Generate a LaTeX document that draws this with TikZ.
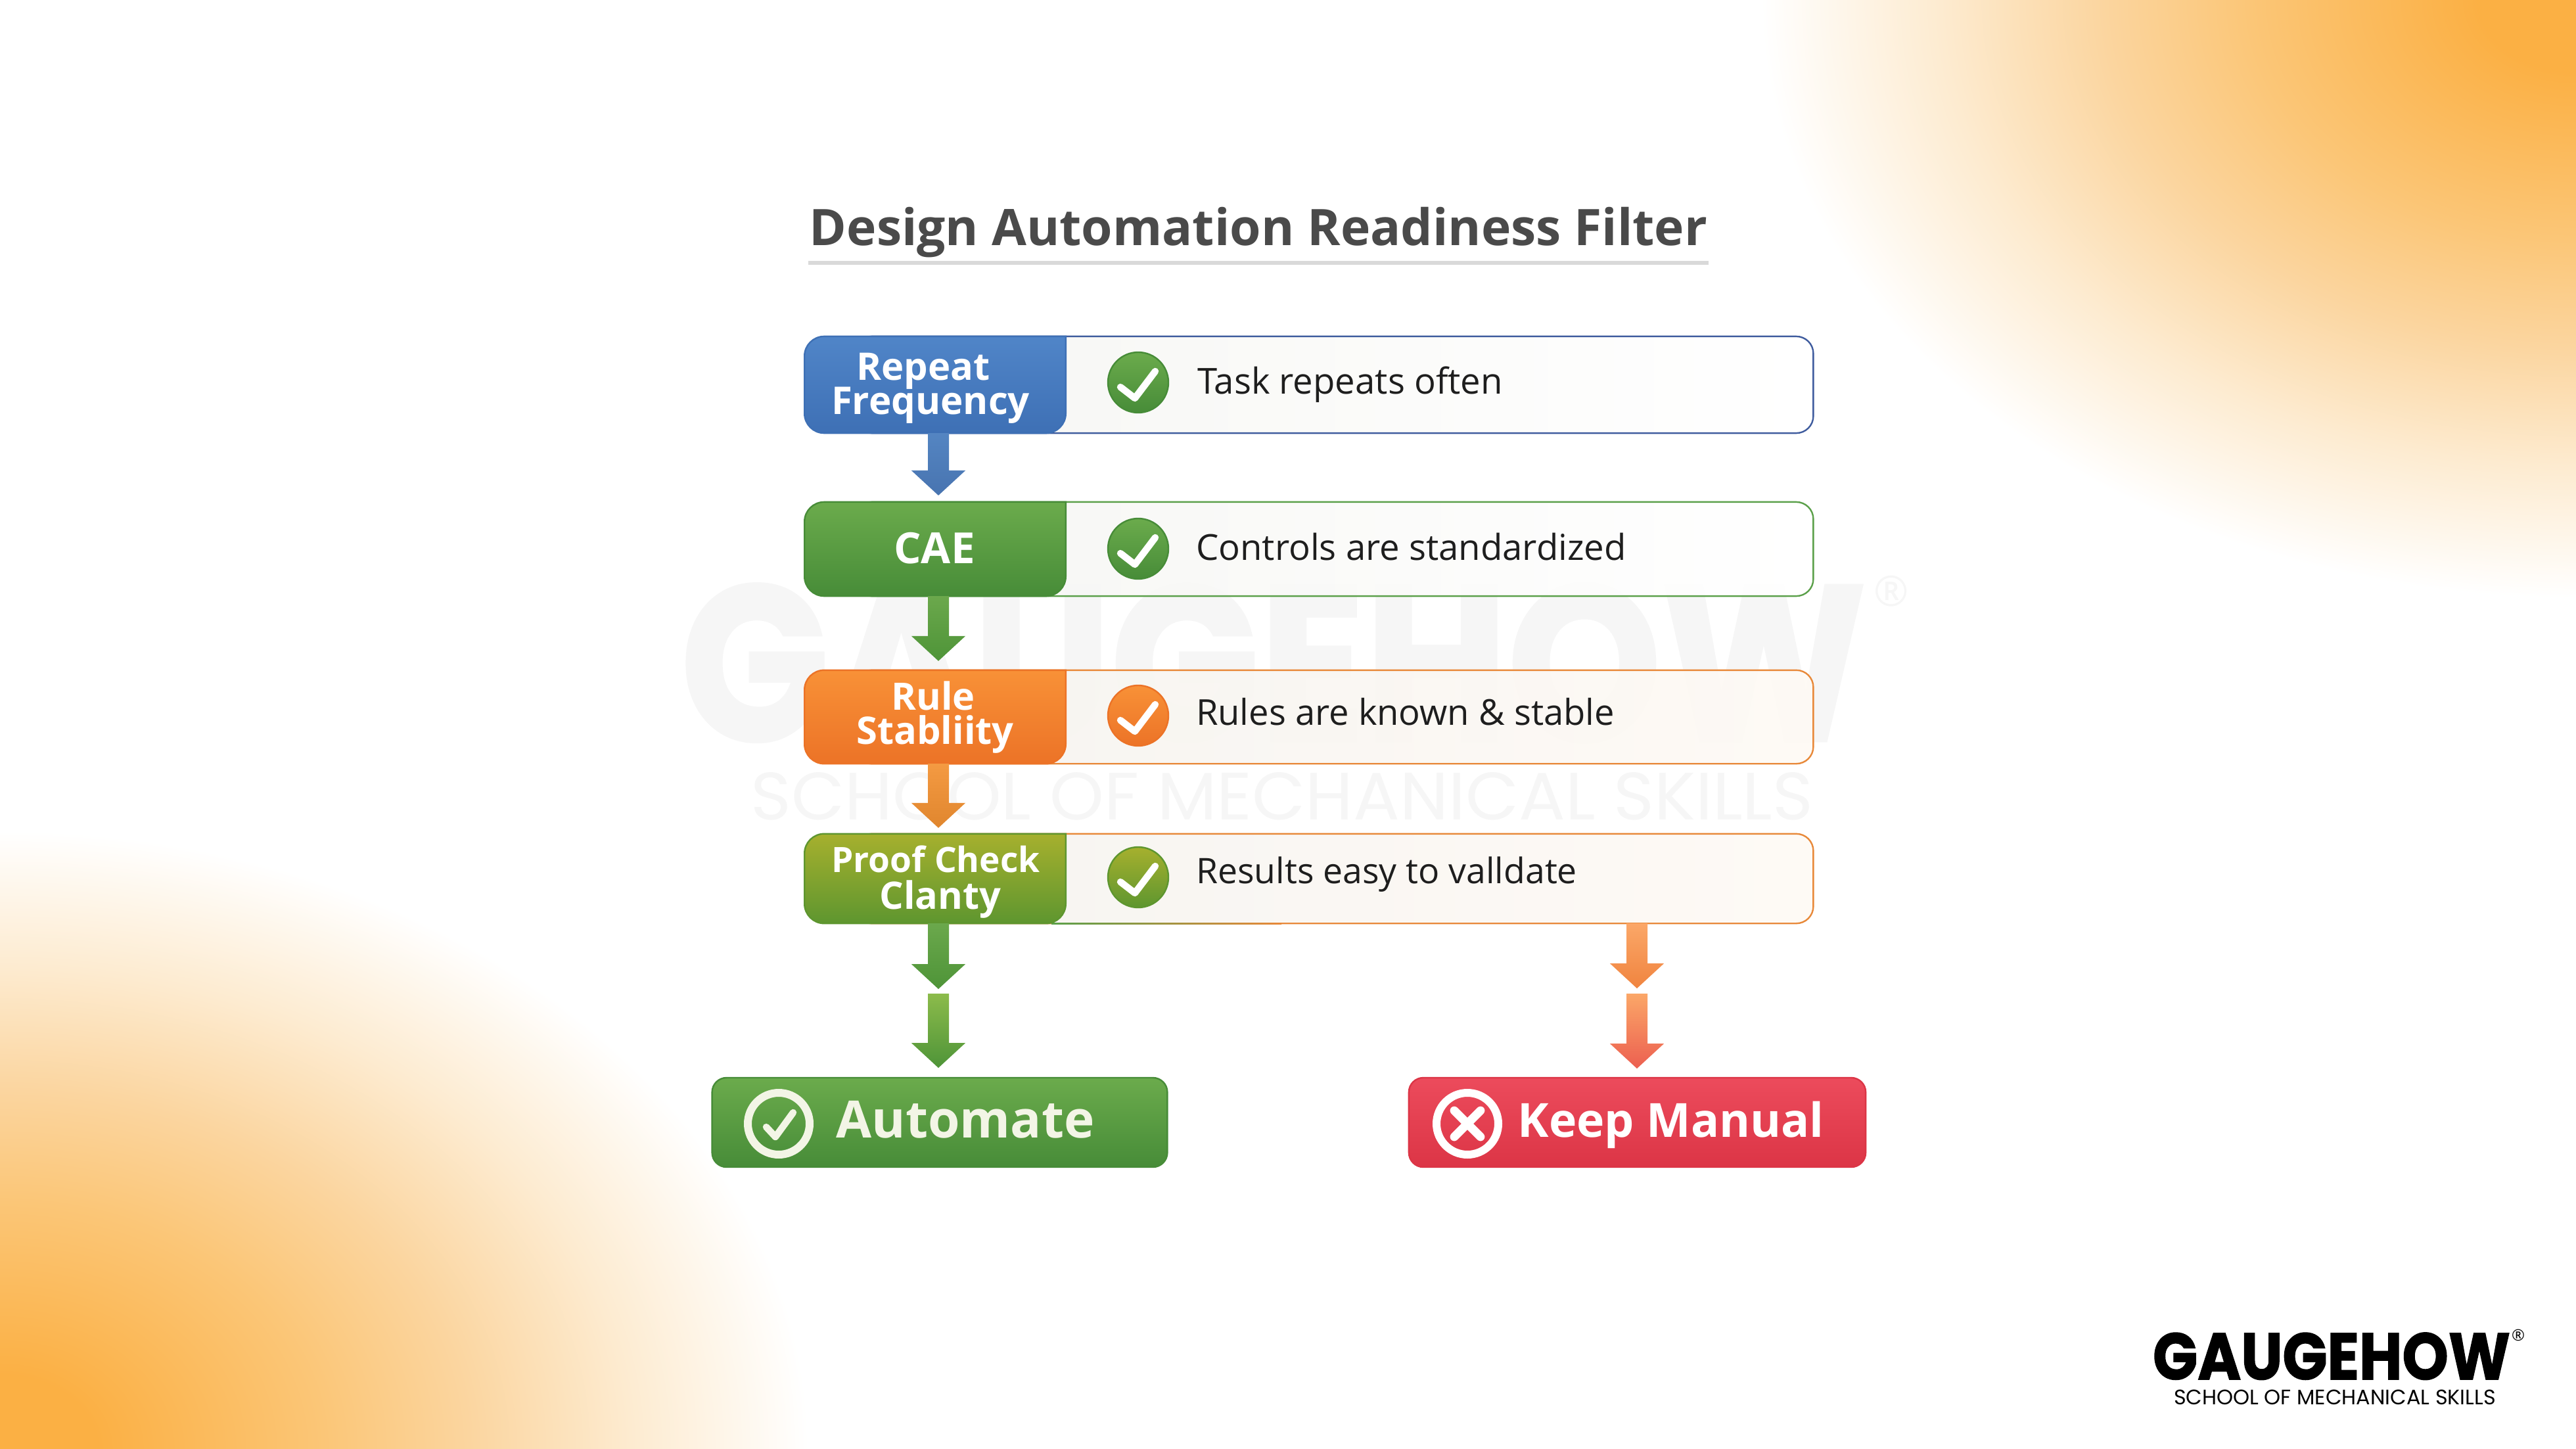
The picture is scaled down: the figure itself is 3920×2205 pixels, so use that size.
\documentclass[tikz,border=0pt]{standalone}
\usepackage{fontspec}
\usepackage{graphicx}
\setmainfont{Open Sans}
\newfontfamily\logofont{Poppins}[BoldFeatures={FakeBold=1.5}]
\usetikzlibrary{calc}
\definecolor{coreor}{HTML}{FBB044}
\definecolor{midor}{HTML}{FBC677}
\definecolor{halfor}{HTML}{FBD59F}
\definecolor{faintor}{HTML}{FDEBD0}
\definecolor{titlegray}{HTML}{4A4A4A}
\definecolor{ruleg}{HTML}{D9D9D9}
\definecolor{wm}{HTML}{F6F6F6}
\definecolor{bodyink}{HTML}{1E1E1E}
\definecolor{cardleft}{HTML}{F6F6F3}
\definecolor{creamleft}{HTML}{F6F4F0}
\definecolor{creamright}{HTML}{FEFAF4}
\definecolor{lineblue}{HTML}{3F5C9E}
\definecolor{linegreen}{HTML}{5BA04A}
\definecolor{lineorange}{HTML}{E8893A}
\definecolor{blueA}{HTML}{5085C8}
\definecolor{blueB}{HTML}{3E70B5}
\definecolor{greenA}{HTML}{6BAB4C}
\definecolor{greenB}{HTML}{478C38}
\definecolor{orA}{HTML}{F89137}
\definecolor{orB}{HTML}{EC7327}
\definecolor{olA}{HTML}{A6B02E}
\definecolor{olB}{HTML}{5E962F}
\definecolor{redA}{HTML}{EC4B5C}
\definecolor{redB}{HTML}{DC3546}
\definecolor{arBlueA}{HTML}{5485C2}
\definecolor{arBlueB}{HTML}{4874B0}
\definecolor{arGreenA}{HTML}{6BA84C}
\definecolor{arGreenB}{HTML}{4E9438}
\definecolor{arOrA}{HTML}{F49A42}
\definecolor{arOrB}{HTML}{E0862E}
\definecolor{arLimeA}{HTML}{8CBB4B}
\definecolor{arPeachA}{HTML}{FBA768}
\definecolor{arPeachB}{HTML}{F0843F}
\definecolor{arRedB}{HTML}{EC5F50}
\definecolor{ringcream}{HTML}{F3F5E6}
\pgfdeclareradialshading{glow}{\pgfpoint{0bp}{0bp}}{color(0bp)=(coreor);color(3bp)=(coreor);color(10bp)=(midor);color(14.5bp)=(halfor);color(19.5bp)=(faintor);color(25bp)=(white);color(50bp)=(white)}
\newcommand{\fitw}[2]{\resizebox{#1pt}{!}{#2}}
\newcommand{\fitwh}[3]{\resizebox{#1pt}{#2pt}{#3}}
% block arrow from a coordinate to a coordinate
\newcommand{\blockarrow}[4]{%
  \shade[top color=#3,bottom color=#4] let \p1=(#1),\p2=(#2) in
    ({\x1-4pt},\y1) -- ({\x1+4pt},\y1) -- ({\x1+4pt},{\y2+9.5pt}) -- ({\x1+10.3pt},{\y2+9.5pt})
    -- (\x1,\y2) -- ({\x1-10.3pt},{\y2+9.5pt}) -- ({\x1-4pt},{\y2+9.5pt}) -- cycle;}
% tab with a square top-right corner
\newcommand{\tabfill}[3]{%
  \shade[top color=#2,bottom color=#3,draw=#3,line width=.6pt]
    (#1.north east) [rounded corners=7.5pt] -- (#1.north west) -- (#1.south west) -- (#1.south east) [sharp corners] -- (#1.north east) -- cycle;}
\newcommand{\tickin}[1]{%
  \draw[tickline] ([shift={(-27,7)}]#1.center) -- ([shift={(-5,24)}]#1.center) -- ([shift={(26,-17)}]#1.center);}
\tikzset{
  x=.25pt,y=-.25pt,
  tabbox/.style={minimum width=99.4pt,inner sep=0pt,outer sep=0pt},
  cardbox/.style={minimum width=364.7pt,inner sep=0pt,outer sep=0pt,rounded corners=6.5pt,line width=.6pt,fill opacity=.9},
  iconball/.style={circle,minimum size=23pt,inner sep=0pt,outer sep=0pt,line width=.6pt},
  tickline/.style={draw=white,line width=2.6pt,line cap=round,line join=round},
  tabtext/.style={anchor=base,inner sep=0pt,outer sep=0pt,text=white,font=\bfseries},
  rowtext/.style={anchor=base west,inner sep=0pt,outer sep=0pt,text=bodyink},
  endbox/.style={minimum height=34pt,inner sep=0pt,outer sep=0pt,rounded corners=5.5pt,line width=.6pt},
  ring/.style={circle,minimum size=23.5pt,inner sep=0pt,outer sep=0pt,draw=#1,line width=3pt},
  wmtext/.style={anchor=base,inner sep=0pt,outer sep=0pt,text=wm},
}
\begin{document}
\begin{tikzpicture}
\useasboundingbox (0,0) rectangle (3920,2205);
\fill[white] (0,0) rectangle (3920,2205);
\begin{scope}
  \clip (0,0) rectangle (3920,2205);
  \shade[shading=glow] (2680,-910) rectangle (5160,910);
  \shade[shading=glow] (-1230,1264) rectangle (1230,3146);
\end{scope}

% watermark
\node[wmtext] (wm1) at (1938,1127) {\fitwh{451}{59.75}{\logofont\bfseries GAUGEHOW}};
\node[anchor=center,inner sep=0pt,text=wm,font=\fontsize{16pt}{16pt}\selectfont] (wmr) at (2878,900) {®};
\node[wmtext] (wm2) at (1951,1247) {\fitwh{404}{18}{\logofont SCHOOL OF MECHANICAL SKILLS}};

% title
\node[anchor=base,inner sep=0pt,text=titlegray,font=\bfseries] (title) at (1915,373) {\fitw{341.5}{Design Automation Readiness Filter}};
\coordinate (ruleL) at (1230,400);
\coordinate (ruleR) at (2600,400);
\draw[ruleg,line width=1.4pt] (ruleL) -- (ruleR);

% cards
\node[cardbox,minimum height=36.8pt,draw=lineblue,left color=cardleft,right color=white] (card1) at (2030,585.5) {};
\node[cardbox,minimum height=35.8pt,draw=linegreen,left color=cardleft,right color=white] (card2) at (2030,835.5) {};
\node[cardbox,minimum height=35.6pt,draw=lineorange,left color=creamleft,right color=creamright] (card3) at (2030,1091) {};
\node[cardbox,minimum height=34.1pt,draw=lineorange,left color=creamleft,right color=creamright] (card4) at (2030,1337) {};
\shade[left color=linegreen,right color=lineorange] (1600,1404.5) rectangle (1950,1406.9);

% tabs
\node[tabbox,minimum height=36.8pt] (tab1) at (1423,585.5) {};
\node[tabbox,minimum height=35.8pt] (tab2) at (1423,835.5) {};
\node[tabbox,minimum height=35.6pt] (tab3) at (1423,1091) {};
\node[tabbox,minimum height=34.1pt] (tab4) at (1423,1337) {};
\tabfill{tab1}{blueA}{blueB}
\tabfill{tab2}{greenA}{greenB}
\tabfill{tab3}{orA}{orB}
\tabfill{tab4}{olA}{olB}

\node[tabtext] (t1a) at (1405,578) {\fitw{50.8}{Repeat}};
\node[tabtext] (t1b) at (1416,630) {\fitw{75.5}{Frequency}};
\node[tabtext] (t2) at (1422,857) {\fitw{30.8}{CAE}};
\node[tabtext] (t3a) at (1420,1080) {\fitw{31.8}{Rule}};
\node[tabtext] (t3b) at (1423,1132) {\fitw{59.8}{Stabliity}};
\node[tabtext] (t4a) at (1424,1327) {\fitw{79.3}{Proof Check}};
\node[tabtext] (t4b) at (1431,1383) {\fitw{46.2}{Clanty}};

% status icons
\node[iconball,draw=greenB,top color=greenA,bottom color=greenB] (ic1) at (1732,582) {};
\node[iconball,draw=greenB,top color=greenA,bottom color=greenB] (ic2) at (1732,835) {};
\node[iconball,draw=orB,top color=orA,bottom color=orB] (ic3) at (1732,1089) {};
\node[iconball,draw=olB,top color=olA,bottom color=olB] (ic4) at (1732,1335) {};
\tickin{ic1}\tickin{ic2}\tickin{ic3}\tickin{ic4}

% row texts
\node[rowtext] (r1) at (1822,599) {\fitw{116.2}{Task repeats often}};
\node[rowtext] (r2) at (1820,852) {\fitw{163.7}{Controls are standardized}};
\node[rowtext] (r3) at (1820,1103) {\fitw{159.2}{Rules are known \& stable}};
\node[rowtext] (r4) at (1820,1344) {\fitw{145}{Results easy to valldate}};

% outcome boxes
\node[endbox,minimum width=173.2pt,draw=greenB,top color=greenA,bottom color=greenB] (auto) at (1430,1708) {};
\node[endbox,minimum width=173.8pt,draw=redB,top color=redA,bottom color=redB] (keep) at (2491.5,1708) {};
\node[ring=ringcream] (auic) at (1185,1710) {};
\draw[draw=ringcream,line width=2.6pt,line cap=round,line join=round] ([shift={(-19,5)}]auic.center) -- ([shift={(-5,20)}]auic.center) -- ([shift={(22,-17)}]auic.center);
\node[ring=white] (kpic) at (2233,1710) {};
\draw[draw=white,line width=3.2pt,line cap=round] ([shift={(-20,-20)}]kpic.center) -- ([shift={(20,20)}]kpic.center);
\draw[draw=white,line width=3.2pt,line cap=round] ([shift={(20,-20)}]kpic.center) -- ([shift={(-20,20)}]kpic.center);
\node[anchor=base west,inner sep=0pt,text=ringcream,font=\bfseries] (autot) at (1272,1731) {\fitw{98.2}{Automate}};
\node[anchor=base west,inner sep=0pt,text=white,font=\bfseries] (keept) at (2309,1730) {\fitw{116.5}{Keep Manual}};

% connectors
\coordinate (ax) at (1428,0);
\coordinate (bx) at (2491,0);
\coordinate (jA) at (1428,1505);
\coordinate (jB) at (1428,1512);
\coordinate (kA) at (2491,1504);
\coordinate (kB) at (2491,1512);
\blockarrow{tab1.south -| ax}{$(tab2.north -| ax)+(0,-10)$}{arBlueA}{arBlueB}
\blockarrow{tab2.south -| ax}{$(tab3.north -| ax)+(0,-14)$}{arGreenA}{arGreenB}
\blockarrow{tab3.south -| ax}{$(tab4.north -| ax)+(0,-9)$}{arOrA}{arOrB}
\blockarrow{tab4.south -| ax}{jA}{arGreenA}{arGreenB}
\blockarrow{jB}{$(auto.north -| ax)+(0,-15)$}{arLimeA}{arGreenB}
\blockarrow{card4.south -| bx}{kA}{arPeachA}{arPeachB}
\blockarrow{kB}{$(keep.north -| bx)+(0,-14)$}{arPeachA}{arRedB}

% logo
\node[anchor=base,inner sep=0pt,text=black] (logo) at (3548,2099) {\fitwh{136}{17.8}{\logofont\bfseries GAUGEHOW}};
\node[anchor=base,inner sep=0pt,text=black] (logos) at (3553,2137) {\fitw{122.5}{\logofont SCHOOL OF MECHANICAL SKILLS}};
\node[anchor=center,inner sep=0pt,text=black,font=\fontsize{6pt}{6pt}\selectfont] (logor) at (3832,2032) {®};
\end{tikzpicture}
\end{document}
